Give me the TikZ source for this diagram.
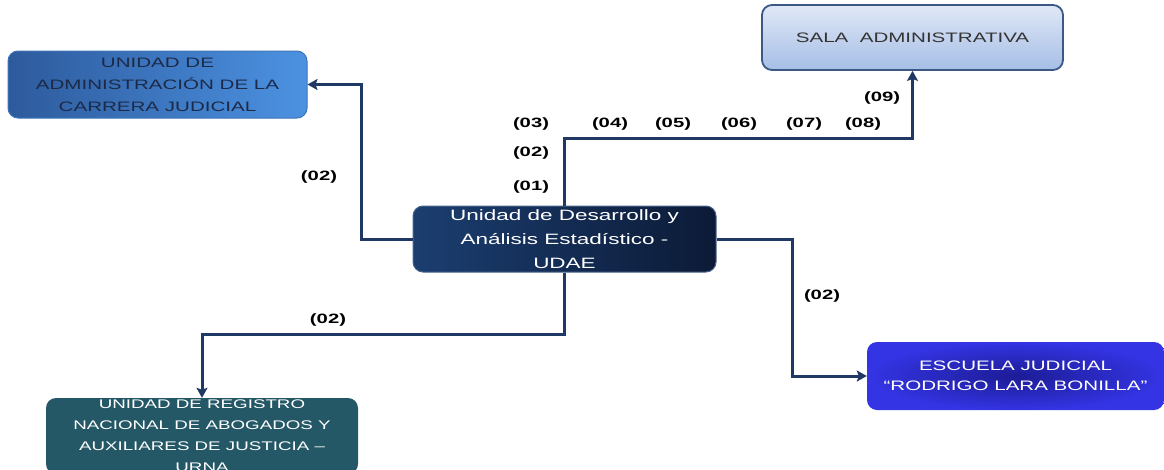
\documentclass[tikz,border=0pt]{standalone}
\usepackage{fontspec}
\setmainfont{Liberation Sans}[FakeStretch=1.5]
\usetikzlibrary{arrows.meta}
\definecolor{conn}{RGB}{31,56,100}
\definecolor{udaeL}{RGB}{27,62,112}
\definecolor{udaeR}{RGB}{12,26,54}
\definecolor{carL}{RGB}{45,90,156}
\definecolor{carR}{RGB}{76,146,226}
\definecolor{salaT}{RGB}{224,232,246}
\definecolor{salaB}{RGB}{166,190,230}
\definecolor{salaD}{RGB}{60,88,132}
\definecolor{urnaC}{RGB}{36,88,102}
\definecolor{escO}{RGB}{52,52,228}
\definecolor{escI}{RGB}{28,28,150}
\definecolor{darktext}{RGB}{28,42,72}
\begin{document}
\begin{tikzpicture}[x=1pt,y=-1pt,
  box/.style={rounded corners=10pt, align=center, inner sep=0pt},
  link/.style={draw=conn, line width=3pt, -{Stealth[length=10pt,width=11pt,inset=2pt]}},
  lbl/.style={font=\fontsize{13.5}{14}\selectfont\bfseries, text=black, inner sep=0pt}]
\useasboundingbox (0,0) rectangle (1164,469);
\node[box, minimum width=303pt, minimum height=66pt, left color=udaeL, right color=udaeR, draw=udaeL!80!white, line width=1pt,
  text=white, font=\fontsize{15}{24}\selectfont] (udae) at (564.5,239)
  {Unidad de Desarrollo y\\Análisis Estadístico -\\UDAE};
\node[box, minimum width=299pt, minimum height=67pt, left color=carL, right color=carR, draw=carR!80!black, line width=1pt,
  text=darktext, font=\fontsize{13.7}{22}\selectfont] (car) at (157.5,84.5)
  {UNIDAD DE\\ADMINISTRACIÓN DE LA\\CARRERA JUDICIAL};
\node[box, minimum width=301pt, minimum height=65pt, top color=salaT, bottom color=salaB, draw=salaD, line width=1.8pt,
  text=black!80, font=\fontsize{13.7}{16}\selectfont] (sala) at (912.5,37.5)
  {SALA\ \ ADMINISTRATIVA};
\node[box, minimum width=312pt, minimum height=76pt, fill=urnaC,
  text=white, font=\fontsize{12.5}{21}\selectfont] (urna) at (202,436)
  {UNIDAD DE REGISTRO\\NACIONAL DE ABOGADOS Y\\AUXILIARES DE JUSTICIA –\\URNA};
\node[box, minimum width=297pt, minimum height=68pt, inner color=escI, outer color=escO,
  text=white, font=\fontsize{13.7}{20}\selectfont] (esc) at (1015.5,376)
  {ESCUELA JUDICIAL\\“RODRIGO LARA BONILLA”};
\draw[link] (udae.west) -- ++(-51,0) |- (car.east);
\draw[link] (udae.north) -- ++(0,-67) -| (sala.south);
\draw[link] (udae.south) -- ++(0,62) -| (urna.north);
\draw[link] (udae.east) -- ++(76,0) |- (esc.west);
\node[lbl] (l1) at (319,177) {(02)};
\node[lbl] (l2) at (531,124) {(03)};
\node[lbl] (l3) at (531,153) {(02)};
\node[lbl] (l4) at (531,187) {(01)};
\node[lbl] (l5) at (610,124) {(04)};
\node[lbl] (l6) at (673,124) {(05)};
\node[lbl] (l7) at (739,124) {(06)};
\node[lbl] (l8) at (804,124) {(07)};
\node[lbl] (l9) at (863,124) {(08)};
\node[lbl] (l10) at (882,98) {(09)};
\node[lbl] (l11) at (328,320) {(02)};
\node[lbl] (l12) at (822,296) {(02)};
\end{tikzpicture}
\end{document}
